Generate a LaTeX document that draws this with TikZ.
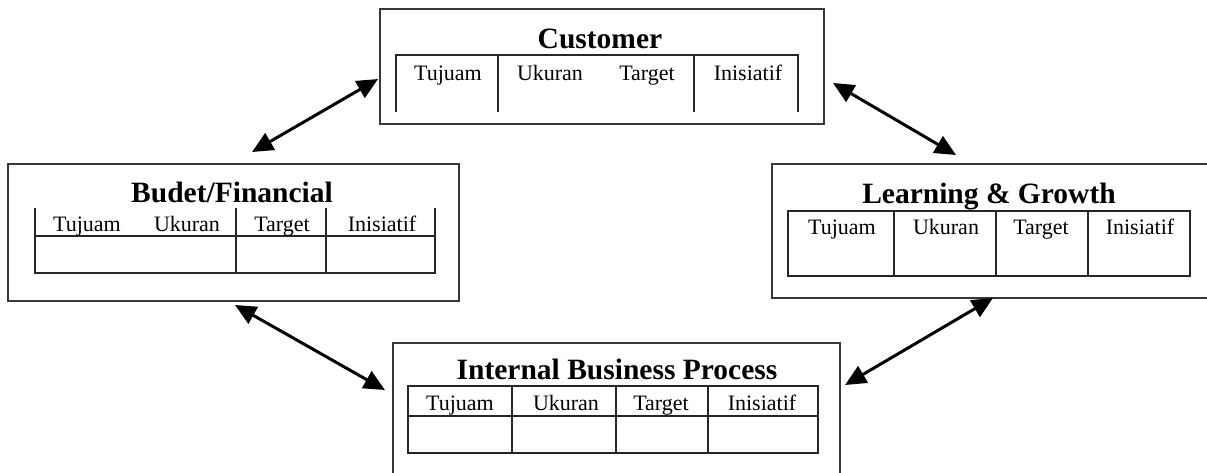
\documentclass[tikz,border=0pt]{standalone}
\usepackage{fontspec}
\setmainfont{Liberation Serif}
\usetikzlibrary{arrows.meta}
\begin{document}
\begin{tikzpicture}[x=1pt,y=-1pt,
  panel/.style={draw=black!78, line width=1.7pt, rectangle, anchor=north west, inner sep=0pt},
  grid/.style={draw=black!85, line width=1.7pt},
  heading/.style={font=\bfseries\fontsize{29.5}{32}\selectfont, anchor=base, inner sep=0pt},
  cell/.style={font=\fontsize{22}{24}\selectfont, anchor=base, inner sep=0pt},
  link/.style={line width=3pt, {Triangle[length=21pt,width=19pt]}-{Triangle[length=21pt,width=19pt]}}]
\useasboundingbox (0,0) rectangle (1207,472);
\clip (0,0) rectangle (1207,472);

% the four perspective panels
\node[panel, minimum width=444pt, minimum height=115pt] (cust) at (379,8) {};
\node[panel, minimum width=451pt, minimum height=137pt] (fin) at (7,163) {};
\node[panel, minimum width=445pt, minimum height=134pt] (learn) at (771,163) {};
\node[panel, minimum width=447pt, minimum height=140pt] (proc) at (392,342) {};

% Customer
\node[heading] (cust-t) at (600,48) {Customer};
\draw[grid] (396,112) -- (396,55) -- (798,55) -- (798,112);
\draw[grid] (498,55) -- (498,112) (694,55) -- (694,112);
\node[cell] (cust-1) at (448,80) {Tujuam};
\node[cell] (cust-2) at (550,80) {Ukuran};
\node[cell] (cust-3) at (647,80) {Target};
\node[cell] (cust-4) at (748,80) {Inisiatif};

% Budget / financial
\node[heading] (fin-t) at (232,202) {Budet/Financial};
\draw[grid] (35,208) -- (35,273) -- (435,273) -- (435,208);
\draw[grid] (35,236) -- (435,236);
\draw[grid] (236,208) -- (236,273) (326,208) -- (326,273);
\node[cell] (fin-1) at (87,231) {Tujuam};
\node[cell] (fin-2) at (187,231) {Ukuran};
\node[cell] (fin-3) at (282,231) {Target};
\node[cell] (fin-4) at (382,231) {Inisiatif};

% Learning & growth
\node[heading] (learn-t) at (989,203) {Learning \& Growth};
\draw[grid] (788,211) rectangle (1190,276);
\draw[grid] (894,211) -- (894,276) (996,211) -- (996,276) (1088,211) -- (1088,276);
\node[cell] (learn-1) at (842,234) {Tujuam};
\node[cell] (learn-2) at (946,234) {Ukuran};
\node[cell] (learn-3) at (1041,234) {Target};
\node[cell] (learn-4) at (1140,234) {Inisiatif};

% Internal business process
\node[heading] (proc-t) at (617,379) {Internal Business Process};
\draw[grid] (408,386) rectangle (818,453);
\draw[grid] (408,416) -- (818,416);
\draw[grid] (512,386) -- (512,453) (616,386) -- (616,453) (708,386) -- (708,453);
\node[cell] (proc-1) at (460,410) {Tujuam};
\node[cell] (proc-2) at (566,410) {Ukuran};
\node[cell] (proc-3) at (661,410) {Target};
\node[cell] (proc-4) at (762,410) {Inisiatif};

% ends of the two-way links
\coordinate (cust-w) at (378,79);
\coordinate (fin-n) at (252,152);
\coordinate (cust-e) at (833,83);
\coordinate (learn-n) at (956,155);
\coordinate (fin-s) at (235,305);
\coordinate (proc-w) at (385,390);
\coordinate (proc-e) at (845,385);
\coordinate (learn-s) at (993,298);

\draw[link] (fin-n) -- (cust-w);
\draw[link] (cust-e) -- (learn-n);
\draw[link] (fin-s) -- (proc-w);
\draw[link] (proc-e) -- (learn-s);
\end{tikzpicture}
\end{document}
